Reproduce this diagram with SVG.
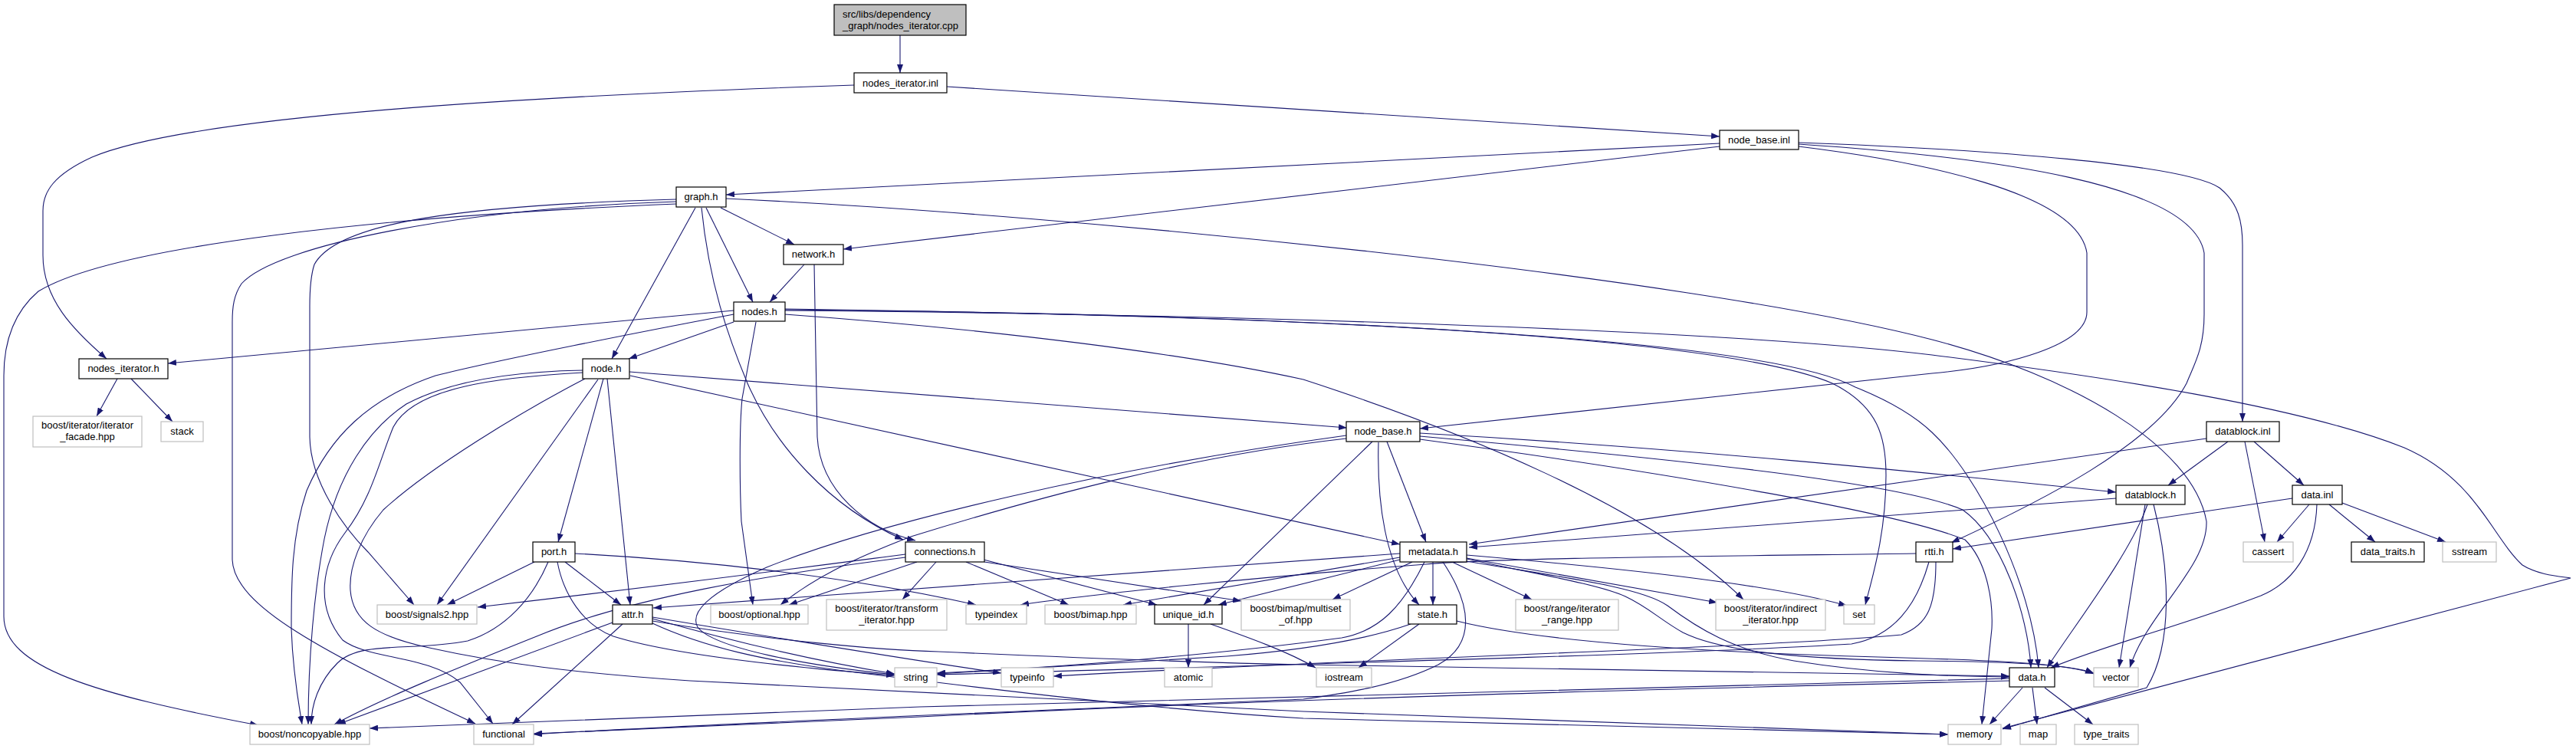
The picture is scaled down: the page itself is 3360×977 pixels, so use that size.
<svg xmlns="http://www.w3.org/2000/svg" width="3360" height="977" viewBox="0 0 3360 977">
<defs>
<style>
.e{fill:none;stroke:#191970;stroke-width:1.1;marker-end:url(#a)}
.d rect{fill:#fff;stroke:#000;stroke-width:1.2}
.x rect{fill:#fff;stroke:#bfbfbf;stroke-width:1.2}
.r rect{fill:#bfbfbf;stroke:#000;stroke-width:1.2}
text{font-family:"Liberation Sans",Arial,Helvetica,sans-serif;font-size:13px;fill:#000;text-anchor:middle}
text.l{text-anchor:start}
</style>
<marker id="a" markerUnits="userSpaceOnUse" markerWidth="11" markerHeight="8" refX="11" refY="4" orient="auto"><path d="M0,0 L11,4 L0,8 z" fill="#191970"/></marker>
</defs>
<rect width="3360" height="977" fill="#fff"/>
<g id="edges">
<path class="e" d="M1174,46 L1174,95"/>
<path class="e" d="M1235,113 L2243,178"/>
<path class="e" d="M1114,111 C700,125 250,150 120,205 C70,228 56,250 56,275 L56,333 C56,390 95,430 139,468"/>
<path class="e" d="M957,405 L219,474"/>
<path class="e" d="M2243,187 L947,254"/>
<path class="e" d="M2243,191 L1100,325"/>
<path class="e" d="M940,271 L1036,319"/>
<path class="e" d="M921,271 L982,394"/>
<path class="e" d="M1049,345 L1004,394"/>
<path class="e" d="M907,271 L798,468"/>
<path class="e" d="M957,420 L820,468"/>
<path class="e" d="M915,271 C925,370 950,440 975,500 C1010,580 1080,660 1178,704"/>
<path class="e" d="M1062,345 L1066,570 C1070,640 1130,690 1194,705"/>
<path class="e" d="M882,260 C600,268 440,290 410,345 C405,360 404,380 404,400 L404,570 C405,630 450,690 480,720 L540,789"/>
<path class="e" d="M882,263 C600,272 360,320 315,370 C305,385 303,400 303,420 L303,730 C305,790 420,850 620,944"/>
<path class="e" d="M882,266 C500,282 150,320 50,380 C15,410 5,450 5,490 L5,804 C5,870 120,905 337,946"/>
<path class="e" d="M2346,191 C2500,210 2710,250 2722,330 L2722,407 C2722,450 2620,478 2520,487 L1852,559"/>
<path class="e" d="M2346,186 C2600,195 2850,215 2895,245 C2920,265 2925,290 2925,320 L2925,550"/>
<path class="e" d="M2346,188 C2600,205 2860,240 2875,330 L2875,410 C2875,455 2862,475 2852,500 C2810,580 2660,655 2545,708"/>
<path class="e" d="M821,485 L1757,558"/>
<path class="e" d="M986,420 L968,520 C964,560 965,640 967,680 L982,789"/>
<path class="e" d="M822,490 L1826,710"/>
<path class="e" d="M787,494 L728,707"/>
<path class="e" d="M792,494 L822,789"/>
<path class="e" d="M780,495 L570,789"/>
<path class="e" d="M760,483 C700,484 600,490 530,527 C480,560 440,620 423,703 C410,770 402,860 402,945"/>
<path class="e" d="M957,410 C840,432 647,470 568,490 C480,520 430,570 400,640 C380,700 380,760 380,820 C382,880 390,920 394,945"/>
<path class="e" d="M760,486 C650,492 540,505 513,557 C495,600 485,650 450,695 C420,735 410,790 447,835 C480,860 560,855 600,890 L643,944"/>
<path class="e" d="M763,494 C680,537 560,610 500,665 C470,700 455,740 457,770 C460,810 490,830 560,845 C650,865 750,878 900,888 C1200,905 1500,920 1700,928 L2541,958"/>
<path class="e" d="M697,733 L583,789"/>
<path class="e" d="M737,733 L810,789"/>
<path class="e" d="M715,733 C695,780 660,820 610,836 C540,850 470,835 440,865 C415,890 406,920 406,945"/>
<path class="e" d="M750,722 C900,730 1100,750 1273,789"/>
<path class="e" d="M727,733 C735,775 760,815 800,830 C870,852 1000,868 1167,881"/>
<path class="e" d="M799,812 L440,945"/>
<path class="e" d="M812,814 L668,945"/>
<path class="e" d="M851,807 C950,835 1050,860 1167,879"/>
<path class="e" d="M851,805 C1000,830 1150,855 1306,878"/>
<path class="e" d="M851,810 C1000,835 1150,848 1224,850 C1400,858 1550,864 1700,867 L2621,882"/>
<path class="e" d="M851,813 C920,845 1000,862 1100,875 C1300,900 1500,925 1700,937 L2541,958"/>
<path class="e" d="M1181,723 C1050,740 900,760 623,792"/>
<path class="e" d="M1181,727 C1000,750 820,780 700,830 C600,870 500,910 436,945"/>
<path class="e" d="M1196,733 L1029,789"/>
<path class="e" d="M1221,733 L1177,782"/>
<path class="e" d="M1260,733 L1394,789"/>
<path class="e" d="M1283,730 L1509,789"/>
<path class="e" d="M1284,733 L1619,784"/>
<path class="e" d="M1756,572 C1550,595 1350,650 1188,700 C1110,730 1060,755 1018,789"/>
<path class="e" d="M1756,568 C1450,610 1150,680 1000,740 C920,775 900,800 910,818 C930,845 1050,868 1167,880"/>
<path class="e" d="M1790,576 L1570,789"/>
<path class="e" d="M1798,577 C1796,650 1805,740 1851,789"/>
<path class="e" d="M1809,576 L1860,707"/>
<path class="e" d="M1852,565 C2200,585 2500,615 2760,642"/>
<path class="e" d="M1852,569 C2200,600 2480,630 2560,665 C2610,700 2645,800 2649,871"/>
<path class="e" d="M1852,573 C2200,620 2480,670 2563,704 C2590,730 2600,780 2598,820 L2585,945"/>
<path class="e" d="M1024,405 C1600,410 2250,430 2520,463 C2750,492 3000,530 3136,584 C3230,625 3250,700 3290,737 C3310,750 3340,752 3353,754 L2612,950"/>
<path class="e" d="M1024,404 C1700,410 2250,440 2390,500 C2450,530 2460,570 2460,620 C2460,700 2440,760 2433,789"/>
<path class="e" d="M1024,403 C1700,412 2300,440 2420,505 C2470,525 2500,545 2520,564 C2580,620 2650,760 2659,871"/>
<path class="e" d="M1024,410 C1300,430 1550,462 1700,495 C1900,560 2150,660 2274,782"/>
<path class="e" d="M947,259 C1400,280 2200,360 2520,443 C2700,490 2860,580 2878,680 C2880,740 2800,800 2778,871"/>
<path class="e" d="M2878,572 L1916,710"/>
<path class="e" d="M2906,576 L2828,633"/>
<path class="e" d="M2928,576 L2954,707"/>
<path class="e" d="M2940,576 L3005,633"/>
<path class="e" d="M2760,650 L1916,714"/>
<path class="e" d="M2801,658 C2780,720 2710,810 2670,871"/>
<path class="e" d="M2798,658 L2764,871"/>
<path class="e" d="M2809,658 C2830,740 2835,840 2800,897 L2612,951"/>
<path class="e" d="M2990,650 L2547,716"/>
<path class="e" d="M3012,658 L2970,707"/>
<path class="e" d="M3038,658 L3098,707"/>
<path class="e" d="M3055,656 L3190,707"/>
<path class="e" d="M3022,658 C3020,720 2990,760 2949,777 C2850,815 2750,840 2675,871"/>
<path class="e" d="M2516,733 C2500,790 2470,830 2415,840 C2200,853 1750,865 1222,880"/>
<path class="e" d="M2525,733 C2525,790 2515,815 2480,828 C2300,845 1800,858 1374,882"/>
<path class="e" d="M2499,722 C2200,726 1950,728 1860,736 C1650,752 1420,775 1331,789"/>
<path class="e" d="M1826,722 L852,793"/>
<path class="e" d="M1826,727 L1465,789"/>
<path class="e" d="M1826,730 L1589,789"/>
<path class="e" d="M1842,733 L1738,782"/>
<path class="e" d="M1869,733 L1869,789"/>
<path class="e" d="M1894,733 L1998,782"/>
<path class="e" d="M1913,728 L2240,786"/>
<path class="e" d="M1913,724 C2100,740 2300,760 2409,790"/>
<path class="e" d="M1858,733 C1830,790 1800,823 1750,832 C1600,852 1400,870 1222,878"/>
<path class="e" d="M1882,733 C1920,790 1925,840 1876,867 C1820,895 1750,905 1700,912 C1400,925 900,945 696,958"/>
<path class="e" d="M1913,729 C2000,748 2085,762 2120,778 C2150,792 2165,808 2195,825 C2245,850 2350,860 2500,862 C2620,863 2700,866 2731,879"/>
<path class="e" d="M1913,732 C2030,752 2140,765 2175,790 C2215,820 2260,848 2340,862 C2440,878 2530,882 2621,883"/>
<path class="e" d="M1840,814 C1780,835 1700,848 1600,856 C1450,866 1300,874 1222,879"/>
<path class="e" d="M1851,814 L1772,871"/>
<path class="e" d="M1900,810 C2000,835 2200,850 2450,857 C2600,861 2700,866 2731,878"/>
<path class="e" d="M1579,814 C1630,832 1680,850 1716,871"/>
<path class="e" d="M1550,814 L1550,871"/>
<path class="e" d="M2638,897 L2595,945"/>
<path class="e" d="M2651,897 L2657,945"/>
<path class="e" d="M2667,897 L2730,945"/>
<path class="e" d="M2621,885 C2200,893 1700,905 1200,922 L482,950"/>
<path class="e" d="M2621,888 C2200,898 1700,910 1200,935 L696,957"/>
<path class="e" d="M153,494 L126,543"/>
<path class="e" d="M171,494 L225,550"/>
</g>
<g id="n_cpp" class="r"><rect x="1088" y="6" width="172" height="40"/><text class="l" x="1099" y="23">src/libs/dependency</text><text class="l" x="1099" y="38">_graph/nodes_iterator.cpp</text></g>
<g id="n_nodes_iterator_inl" class="d"><rect x="1114" y="95" width="121" height="26"/><text x="1174.5" y="112.5">nodes_iterator.inl</text></g>
<g id="n_node_base_inl" class="d"><rect x="2243" y="170" width="103" height="25"/><text x="2294.5" y="187">node_base.inl</text></g>
<g id="n_graph_h" class="d"><rect x="882" y="244" width="65" height="26"/><text x="914.5" y="261">graph.h</text></g>
<g id="n_network_h" class="d"><rect x="1022" y="319" width="78" height="26"/><text x="1061" y="336">network.h</text></g>
<g id="n_nodes_h" class="d"><rect x="957" y="394" width="67" height="25"/><text x="990.5" y="411">nodes.h</text></g>
<g id="n_nodes_iterator_h" class="d"><rect x="103" y="468" width="116" height="26"/><text x="161" y="485">nodes_iterator.h</text></g>
<g id="n_node_h" class="d"><rect x="760" y="468" width="61" height="26"/><text x="790.5" y="485">node.h</text></g>
<g id="n_iterator_facade" class="x"><rect x="43" y="543" width="142" height="40"/><text x="114" y="559">boost/iterator/iterator</text><text x="114" y="574">_facade.hpp</text></g>
<g id="n_stack" class="x"><rect x="210" y="550" width="55" height="26"/><text x="237.5" y="567">stack</text></g>
<g id="n_node_base_h" class="d"><rect x="1756" y="550" width="96" height="26"/><text x="1804" y="567">node_base.h</text></g>
<g id="n_datablock_inl" class="d"><rect x="2878" y="550" width="95" height="26"/><text x="2925.5" y="567">datablock.inl</text></g>
<g id="n_datablock_h" class="d"><rect x="2760" y="633" width="90" height="25"/><text x="2805" y="650">datablock.h</text></g>
<g id="n_data_inl" class="d"><rect x="2990" y="633" width="65" height="25"/><text x="3022.5" y="650">data.inl</text></g>
<g id="n_port_h" class="d"><rect x="695" y="707" width="55" height="26"/><text x="722.5" y="724">port.h</text></g>
<g id="n_connections_h" class="d"><rect x="1181" y="707" width="103" height="26"/><text x="1232.5" y="724">connections.h</text></g>
<g id="n_metadata_h" class="d"><rect x="1826" y="707" width="87" height="26"/><text x="1869.5" y="724">metadata.h</text></g>
<g id="n_rtti_h" class="d"><rect x="2499" y="707" width="48" height="26"/><text x="2523" y="724">rtti.h</text></g>
<g id="n_cassert" class="x"><rect x="2926" y="707" width="65" height="26"/><text x="2958.5" y="724">cassert</text></g>
<g id="n_data_traits_h" class="d"><rect x="3067" y="707" width="95" height="26"/><text x="3114.5" y="724">data_traits.h</text></g>
<g id="n_sstream" class="x"><rect x="3186" y="707" width="70" height="26"/><text x="3221" y="724">sstream</text></g>
<g id="n_signals2" class="x"><rect x="492" y="789" width="130" height="25"/><text x="557" y="806">boost/signals2.hpp</text></g>
<g id="n_attr_h" class="d"><rect x="799" y="789" width="52" height="25"/><text x="825" y="806">attr.h</text></g>
<g id="n_optional" class="x"><rect x="927" y="789" width="127" height="25"/><text x="990.5" y="806">boost/optional.hpp</text></g>
<g id="n_transform_iterator" class="x"><rect x="1078" y="782" width="157" height="40"/><text x="1156.5" y="798">boost/iterator/transform</text><text x="1156.5" y="813">_iterator.hpp</text></g>
<g id="n_typeindex" class="x"><rect x="1260" y="789" width="79" height="25"/><text x="1299.5" y="806">typeindex</text></g>
<g id="n_bimap" class="x"><rect x="1363" y="789" width="119" height="25"/><text x="1422.5" y="806">boost/bimap.hpp</text></g>
<g id="n_unique_id_h" class="d"><rect x="1506" y="789" width="88" height="25"/><text x="1550" y="806">unique_id.h</text></g>
<g id="n_multiset_of" class="x"><rect x="1619" y="782" width="142" height="40"/><text x="1690" y="798">boost/bimap/multiset</text><text x="1690" y="813">_of.hpp</text></g>
<g id="n_state_h" class="d"><rect x="1837" y="789" width="63" height="25"/><text x="1868.5" y="806">state.h</text></g>
<g id="n_iterator_range" class="x"><rect x="1977" y="782" width="134" height="40"/><text x="2044" y="798">boost/range/iterator</text><text x="2044" y="813">_range.hpp</text></g>
<g id="n_indirect_iterator" class="x"><rect x="2238" y="782" width="143" height="40"/><text x="2309.5" y="798">boost/iterator/indirect</text><text x="2309.5" y="813">_iterator.hpp</text></g>
<g id="n_set" class="x"><rect x="2405" y="789" width="40" height="25"/><text x="2425" y="806">set</text></g>
<g id="n_string" class="x"><rect x="1167" y="871" width="55" height="25"/><text x="1194.5" y="888">string</text></g>
<g id="n_typeinfo" class="x"><rect x="1306" y="871" width="68" height="25"/><text x="1340" y="888">typeinfo</text></g>
<g id="n_atomic" class="x"><rect x="1519" y="871" width="62" height="25"/><text x="1550" y="888">atomic</text></g>
<g id="n_iostream" class="x"><rect x="1717" y="871" width="72" height="25"/><text x="1753" y="888">iostream</text></g>
<g id="n_data_h" class="d"><rect x="2621" y="871" width="59" height="25"/><text x="2650.5" y="888">data.h</text></g>
<g id="n_vector" class="x"><rect x="2731" y="871" width="58" height="25"/><text x="2760" y="888">vector</text></g>
<g id="n_noncopyable" class="x"><rect x="326" y="945" width="156" height="26"/><text x="404" y="962">boost/noncopyable.hpp</text></g>
<g id="n_functional" class="x"><rect x="618" y="945" width="78" height="26"/><text x="657" y="962">functional</text></g>
<g id="n_memory" class="x"><rect x="2541" y="945" width="69" height="26"/><text x="2575.5" y="962">memory</text></g>
<g id="n_map" class="x"><rect x="2635" y="945" width="47" height="26"/><text x="2658.5" y="962">map</text></g>
<g id="n_type_traits" class="x"><rect x="2706" y="945" width="83" height="26"/><text x="2747.5" y="962">type_traits</text></g>
</svg>
